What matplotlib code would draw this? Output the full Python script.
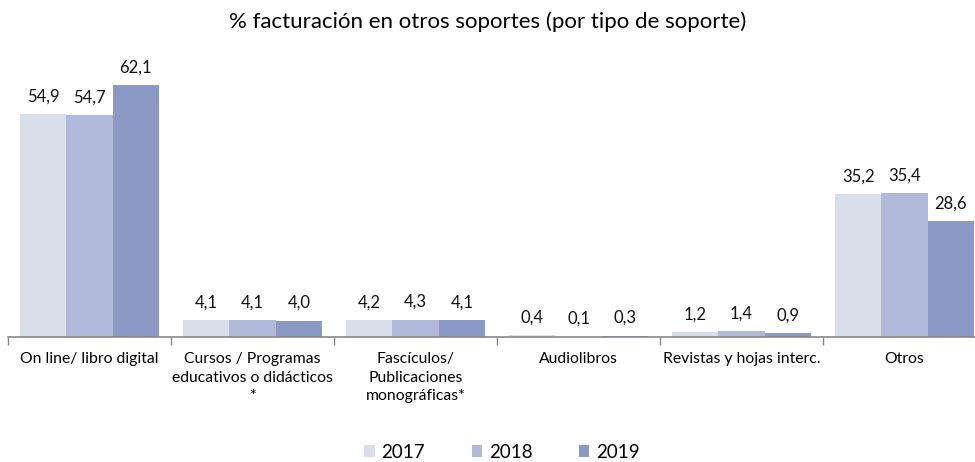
import numpy as np
import matplotlib.pyplot as plt

plt.rcParams['font.family'] = ['Lato', 'DejaVu Sans']

categorias = ['On line/ libro digital', 'Cursos / Programas\neducativos o didácticos\n*',
              'Fascículos/\nPublicaciones\nmonográficas*', 'Audiolibros',
              'Revistas y hojas interc.', 'Otros']
anios = ['2017', '2018', '2019']
v2017 = [54.9, 4.1, 4.2, 0.4, 1.2, 35.2]
v2018 = [54.7, 4.1, 4.3, 0.1, 1.4, 35.4]
v2019 = [62.1, 4.0, 4.1, 0.3, 0.9, 28.6]
colores = ['#D9DEEB', '#B0BAD8', '#8A9AC5']

fig = plt.figure(figsize=(9.75, 4.62), dpi=100)
ax = fig.add_axes([8 / 975, (462 - 337) / 462, 978 / 975, 284 / 462])

x = np.arange(len(categorias))
w = 0.284
for i, (serie, col) in enumerate(zip([v2017, v2018, v2019], colores)):
    pos = x + (i - 1) * w
    ax.bar(pos, serie, w, color=col, label=anios[i])
    for p, v in zip(pos, serie):
        ax.text(p, v + 2.4, f'{v:.1f}'.replace('.', ','), ha='center', va='bottom',
                fontsize=12, color='#111111')

ax.set_xlim(-0.5, len(categorias) - 0.5)
ax.set_ylim(0, 70)
ax.set_yticks([])
for s in ['top', 'right', 'left']:
    ax.spines[s].set_visible(False)
ax.spines['bottom'].set_color('#888888')
ax.spines['bottom'].set_linewidth(1.2)

ax.set_xticks(x)
ax.set_xticklabels(categorias, fontsize=11.3, va='top', linespacing=1.4)
ax.tick_params(axis='x', length=0, pad=11)
ax.set_xticks(np.arange(len(categorias) + 1) - 0.5, minor=True)
ax.tick_params(axis='x', which='minor', length=6, color='#888888', width=1)

fig.text(0.5, 1 - 22 / 462, '% facturación en otros soportes (por tipo de soporte)',
         ha='center', va='center', fontsize=16)

fig.legend(loc='center', bbox_to_anchor=(502 / 975, 1 - 452 / 462), ncol=3, frameon=False,
           fontsize=13.5, handlelength=0.55, handleheight=0.55, columnspacing=2.5,
           handletextpad=0.35)

plt.savefig('out.png', dpi=100)
